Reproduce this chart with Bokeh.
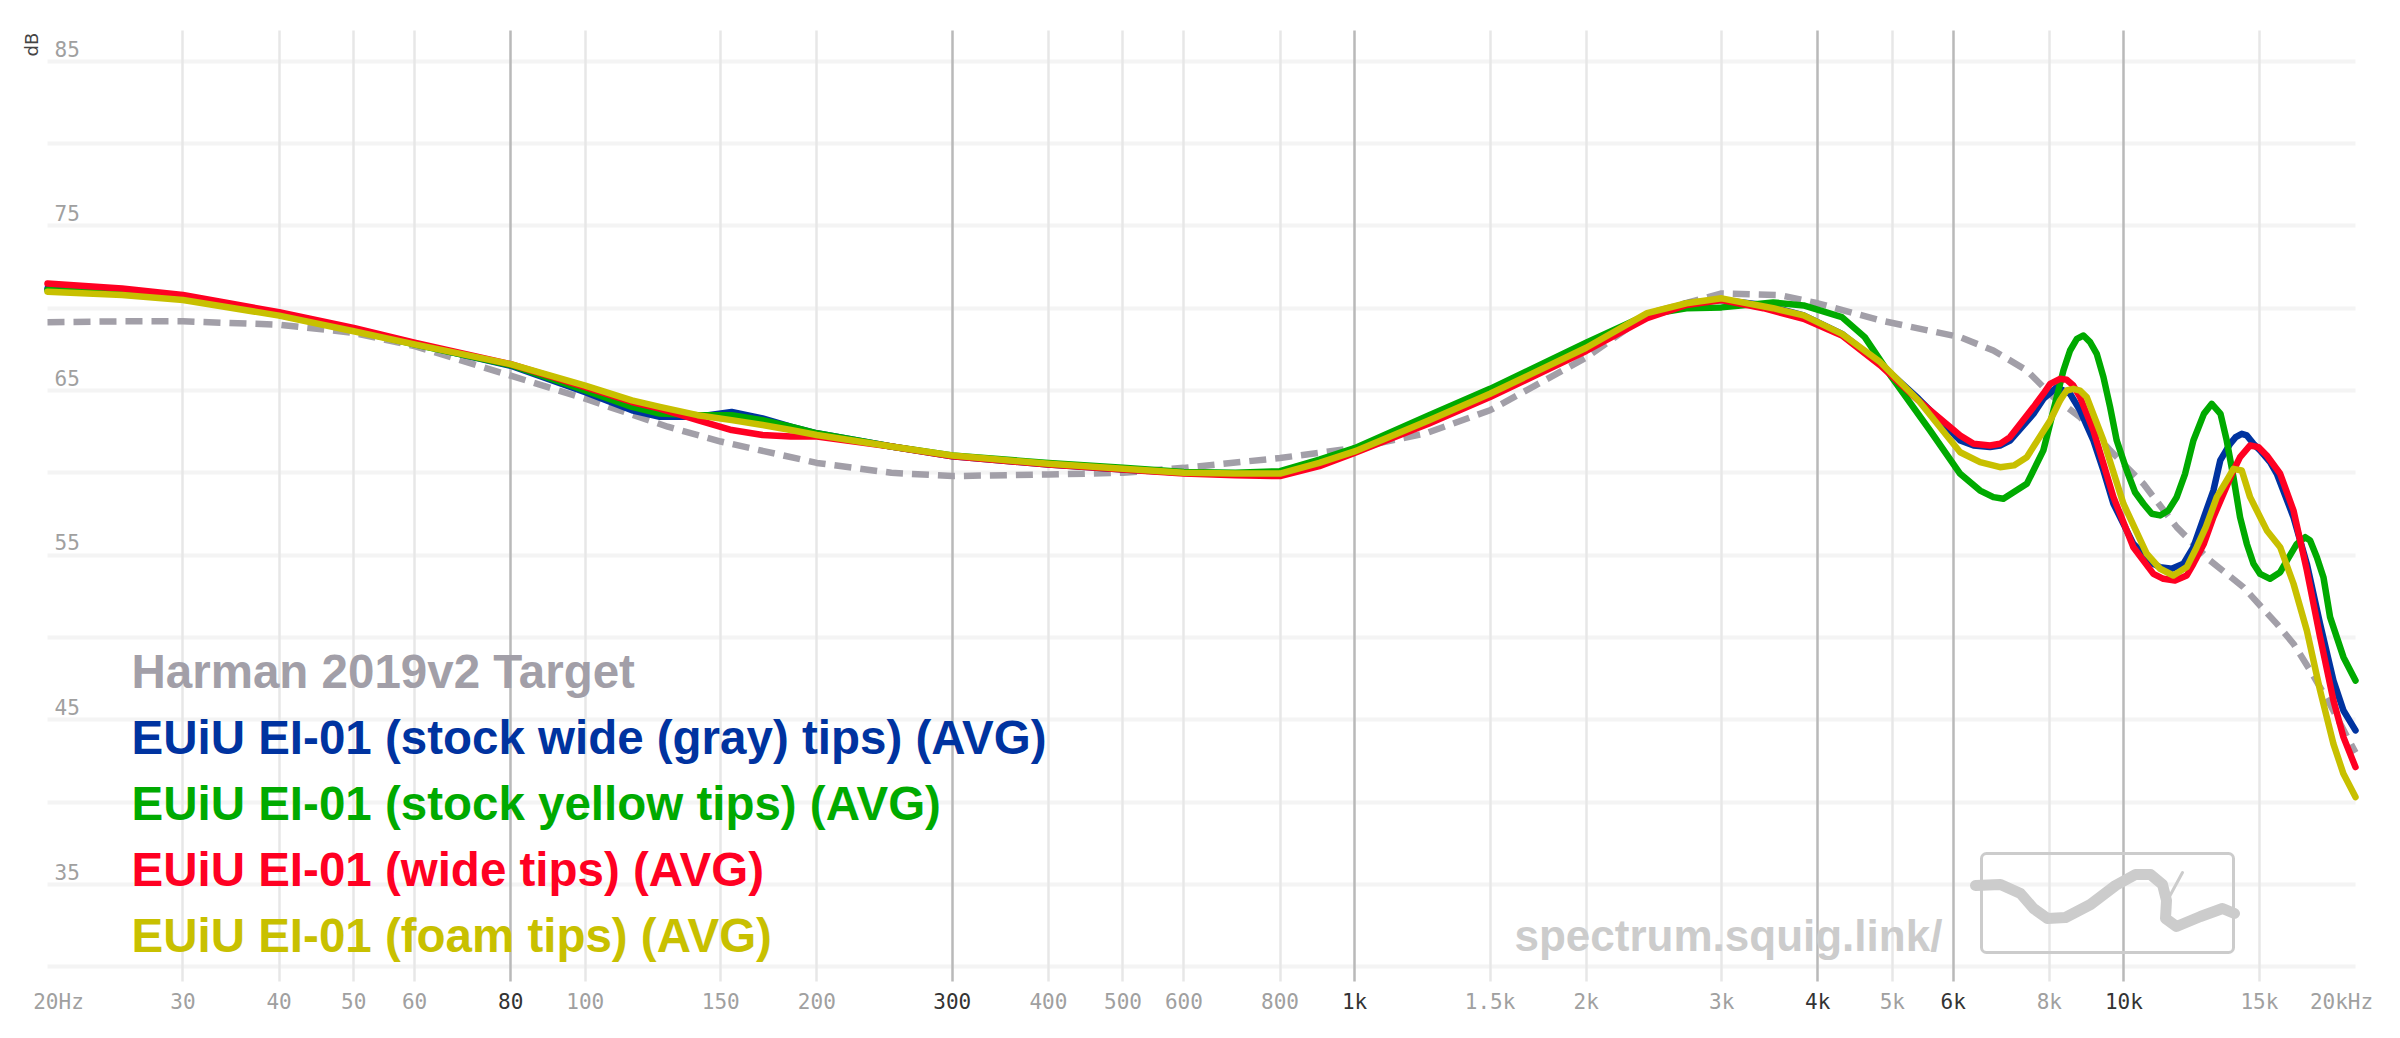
import math
from bokeh.plotting import figure
from bokeh.models import (Range1d, LogAxis, LinearAxis, FixedTicker, Grid,
                          CustomJSTickFormatter, ColumnDataSource)
from bokeh.core.properties import value
from bokeh.embed import file_html
from bokeh.resources import INLINE

# ---------------- data ----------------
harman_f = [20, 25, 30, 40, 50, 60, 80, 100, 128, 150, 200, 250, 300, 400, 500, 600, 800,
            1000, 1238, 1500, 2000, 2416, 3000, 3566, 4000, 4824, 6126, 6766, 7478, 8100,
            8770, 9596, 10602, 11712, 12942, 14302, 15806, 16614, 17460, 18500, 20000]
harman_db = [69.15, 69.2, 69.2, 69.0, 68.5, 67.7, 65.9, 64.5, 62.8, 61.9, 60.6, 60.0, 59.8,
             59.9, 60.0, 60.3, 60.9, 61.5, 62.4, 63.8, 67.0, 69.7, 70.9, 70.8, 70.3, 69.26,
             68.24, 67.43, 66.22, 64.6, 63.38, 61.36, 59.33, 56.7, 54.67, 53.05, 50.82,
             49.61, 48.0, 46.0, 43.0]

blue_f = [20, 25, 30, 40, 50, 60, 80, 100, 115, 125, 140, 155, 170, 185, 200, 250, 300, 400,
          500, 600, 700, 800, 900, 1000, 1250, 1500, 2000, 2400, 2700, 3000, 3400, 3834, 4300,
          4824, 5408, 6126, 6377, 6698, 6902, 7112, 7628, 7858, 8180, 8512, 8770, 9128, 9406,
          9692, 10288, 10924, 11144, 11538, 11948, 12312, 12705, 13072, 13342, 13742, 13974,
          14230, 14448, 14738, 15032, 15490, 15806, 16614, 17290, 17990, 18722, 19292, 20000]
blue_db = [71.2, 71.0, 70.65, 69.65, 68.7, 67.85, 66.5, 64.9, 63.8, 63.4, 63.4, 63.7, 63.3,
           62.8, 62.4, 61.6, 61.0, 60.5, 60.2, 60.0, 59.9, 59.9, 60.5, 61.3, 63.2, 64.8, 67.6,
           69.6, 70.3, 70.5, 70.2, 69.56, 68.44, 66.62, 64.5, 61.96, 61.66, 61.56, 61.66,
           61.96, 63.58, 64.49, 65.2, 64.8, 63.79, 61.96, 60.14, 58.12, 55.68, 54.47, 54.27,
           54.17, 54.47, 55.48, 57.3, 58.92, 60.75, 61.76, 62.17, 62.37, 62.27, 61.76, 61.36,
           60.65, 59.94, 57.3, 54.47, 50.82, 47.38, 45.56, 44.35]

green_f = [20, 25, 30, 40, 50, 60, 80, 100, 115, 125, 140, 155, 170, 185, 200, 250, 300, 400,
           500, 600, 700, 800, 900, 1000, 1250, 1500, 2000, 2400, 2700, 3000, 3500, 3834, 4300,
           4604, 4990, 5598, 6126, 6502, 6766, 6972, 7478, 7858, 8180, 8344, 8512, 8687, 8860,
           9038, 9220, 9406, 9596, 9788, 10086, 10340, 10602, 10870, 11144, 11424, 11712,
           12010, 12312, 12705, 13008, 13354, 13604, 13880, 14158, 14448, 14738, 15032, 15490,
           15964, 16286, 16778, 17204, 17460, 17816, 18170, 18536, 19292, 20000]
green_db = [71.1, 70.9, 70.6, 69.6, 68.65, 67.8, 66.55, 65.0, 64.0, 63.6, 63.5, 63.5, 63.2,
            62.8, 62.4, 61.6, 61.05, 60.6, 60.3, 60.05, 60.0, 60.1, 60.8, 61.5, 63.5, 65.1,
            67.9, 69.6, 70.0, 70.05, 70.35, 70.17, 69.46, 68.24, 65.81, 62.57, 59.94, 58.92,
            58.52, 58.42, 59.33, 61.36, 64.6, 66.22, 67.43, 68.14, 68.34, 67.94, 67.23, 65.81,
            63.99, 61.96, 60.14, 58.82, 58.12, 57.51, 57.41, 57.71, 58.52, 59.94, 61.96, 63.58,
            64.19, 63.58, 61.96, 59.74, 57.3, 55.68, 54.47, 53.86, 53.56, 53.96, 54.67, 55.68,
            56.09, 55.89, 54.87, 53.66, 51.23, 48.8, 47.38]

red_f = [20, 25, 30, 40, 50, 60, 80, 100, 115, 125, 140, 155, 170, 185, 200, 250, 300, 400,
         500, 600, 700, 800, 900, 1000, 1250, 1500, 2000, 2400, 2700, 3000, 3400, 3834, 4300,
         4824, 5408, 6126, 6377, 6698, 6902, 7112, 7628, 7858, 8020, 8260, 8426, 8596, 8770,
         9128, 9406, 9692, 10288, 10924, 11256, 11654, 12070, 12312, 12705, 13072, 13880,
         14158, 14590, 14958, 15338, 15964, 16614, 17290, 17990, 18722, 19292, 20000]
red_db = [71.5, 71.2, 70.8, 69.76, 68.8, 67.9, 66.6, 65.2, 64.3, 63.9, 63.2, 62.6, 62.3, 62.2,
          62.2, 61.6, 61.0, 60.5, 60.2, 59.95, 59.85, 59.8, 60.4, 61.2, 63.0, 64.6, 67.4, 69.4,
          70.2, 70.5, 70.0, 69.36, 68.34, 66.52, 64.39, 62.27, 61.76, 61.66, 61.76, 62.17,
          63.99, 64.8, 65.4, 65.71, 65.65, 65.3, 64.6, 62.57, 60.55, 58.52, 55.48, 53.86,
          53.56, 53.46, 53.76, 54.47, 55.69, 57.3, 60.14, 60.95, 61.66, 61.56, 61.05, 59.94,
          57.71, 54.07, 50.01, 46.17, 43.94, 42.12]

yellow_f = [20, 25, 30, 40, 50, 60, 80, 100, 115, 125, 140, 155, 170, 185, 200, 250, 300, 400,
            500, 600, 700, 800, 900, 1000, 1250, 1500, 2000, 2400, 2700, 3000, 3500, 3834, 4300,
            4824, 5408, 6126, 6502, 6902, 7196, 7478, 8020, 8260, 8426, 8596, 8770, 8948, 9406,
            9986, 10708, 11144, 11596, 12070, 12436, 12778, 13204, 13604, 13880, 14230, 14590,
            15338, 15964, 16614, 17290, 17990, 18722, 19292, 20000]
yellow_db = [71.0, 70.8, 70.5, 69.55, 68.6, 67.8, 66.6, 65.3, 64.4, 64.0, 63.5, 63.2, 62.9,
             62.6, 62.3, 61.6, 61.05, 60.55, 60.25, 60.0, 59.95, 59.95, 60.6, 61.3, 63.2, 64.8,
             67.6, 69.7, 70.3, 70.6, 70.0, 69.56, 68.44, 66.72, 64.39, 61.25, 60.65, 60.34,
             60.45, 60.95, 63.18, 64.39, 65.0, 65.1, 64.99, 64.6, 61.96, 58.12, 55.08, 54.17,
             53.76, 54.27, 55.48, 56.7, 58.52, 59.53, 60.24, 60.14, 58.52, 56.5, 55.48, 53.26,
             50.42, 46.77, 43.53, 41.71, 40.3]

series_names = ["Harman 2019v2 Target",
                "EUiU EI-01 (stock wide (gray) tips) (AVG)",
                "EUiU EI-01 (stock yellow tips) (AVG)",
                "EUiU EI-01 (wide tips) (AVG)",
                "EUiU EI-01 (foam tips) (AVG)"]
series_colors = ["#a29fa8", "#0033a0", "#00aa00", "#ff0022", "#c8c000"]

x_light_ticks = [30, 40, 50, 60, 100, 150, 200, 400, 500, 600, 800, 1500, 2000, 3000, 5000,
                 8000, 15000]
x_dark_ticks = [80, 300, 1000, 4000, 6000, 10000]
x_dark_labels = ["80", "300", "1k", "4k", "6k", "10k"]
x_gray_labels = ["20Hz", "30", "40", "50", "60", "100", "150", "200", "400", "500", "600",
                 "800", "1.5k", "2k", "3k", "5k", "8k", "15k", "20kHz"]
y_tick_values = [35, 45, 55, 65, 75, 85]
y_grid_values = [30, 35, 40, 45, 50, 55, 60, 65, 70, 75, 80, 85]

for _f, _d in ((harman_f, harman_db), (blue_f, blue_db), (green_f, green_db),
               (red_f, red_db), (yellow_f, yellow_db)):
    assert len(_f) == len(_d)

# ---------------- layout helpers (canvas pixel -> data) ----------------
def fx(px):
    return 20 * 10 ** ((px - 47) / 769.33)

def fy(py):
    return 65 - (py - 390) / 16.46

W, H = 2400, 1038
p = figure(width=W, height=H, output_backend="svg", toolbar_location=None,
           x_axis_type="log", x_axis_location=None, y_axis_location=None,
           x_range=Range1d(fx(0), fx(W)), y_range=Range1d(fy(H), fy(0)),
           min_border_left=0, min_border_right=0, min_border_top=0, min_border_bottom=0)
p.outline_line_color = None
p.background_fill_color = "white"
p.border_fill_color = "white"
p.grid.visible = False

y_bottom, y_top = fy(981), fy(30)

# grids
hgrid = Grid(dimension=1, ticker=FixedTicker(ticks=y_grid_values),
             grid_line_color="#f4f4f4", grid_line_width=4, cross_bounds=(20, 20000))
vgrid_light = Grid(dimension=0, ticker=FixedTicker(ticks=x_light_ticks),
                   grid_line_color="#e7e7e7", grid_line_width=2.5, cross_bounds=(y_bottom, y_top))
vgrid_dark = Grid(dimension=0, ticker=FixedTicker(ticks=x_dark_ticks),
                  grid_line_color="#b9b9b9", grid_line_width=2.5, cross_bounds=(y_bottom, y_top))
for g in (hgrid, vgrid_light, vgrid_dark):
    p.add_layout(g)

# axes, fixed at the bottom / left edge of the data area
gray_ticks = [fx(58)] + x_light_ticks + [fx(2341)]
ax_gray = LogAxis(fixed_location=y_bottom, ticker=FixedTicker(ticks=gray_ticks),
                  formatter=CustomJSTickFormatter(args=dict(labels=x_gray_labels),
                                                  code="return labels[index]"))
ax_dark = LogAxis(fixed_location=y_bottom, ticker=FixedTicker(ticks=x_dark_ticks),
                  formatter=CustomJSTickFormatter(args=dict(labels=x_dark_labels),
                                                  code="return labels[index]"))
for ax, col in ((ax_gray, "#a0a0a0"), (ax_dark, "#333333")):
    ax.axis_line_color = None
    ax.major_tick_line_color = None
    ax.minor_tick_line_color = None
    ax.major_tick_out = 0
    ax.major_tick_in = 0
    ax.major_label_standoff = 8
    ax.major_label_text_font = "DejaVu Sans Mono"
    ax.major_label_text_font_size = "21px"
    ax.major_label_text_color = col
    p.add_layout(ax, "below")

y_label_shift = 0.77
ay = LinearAxis(fixed_location=20,
                ticker=FixedTicker(ticks=[v + y_label_shift for v in y_tick_values]),
                formatter=CustomJSTickFormatter(args=dict(labels=[str(v) for v in y_tick_values]),
                                                code="return labels[index]"))
ay.axis_line_color = None
ay.major_tick_line_color = None
ay.minor_tick_line_color = None
ay.major_tick_out = 0
ay.major_tick_in = 0
ay.major_label_standoff = 7
ay.major_label_text_font = "DejaVu Sans Mono"
ay.major_label_text_font_size = "21px"
ay.major_label_text_color = "#a0a0a0"
p.add_layout(ay, "right")

# axis unit
p.text(x=[fx(31)], y=[fy(44)], text=["dB"], angle=math.pi / 2,
       text_font=value("DejaVu Sans"), text_font_size="18px", text_color="#444444",
       text_align="center", text_baseline="middle")

# watermark
p.text(x=[fx(1514)], y=[fy(935)], text=["spectrum.squig.link/"],
       text_font=value("Liberation Sans"), text_font_style="bold", text_font_size="44px",
       text_color="#cccccc", text_align="left", text_baseline="alphabetic")
p.quad(left=[fx(1981)], right=[fx(2233)], top=[fy(853)], bottom=[fy(952)],
       fill_color=None, line_color="#cccccc", line_width=3, border_radius=5)
logo_px = [(1975, 885), (2000, 884), (2020, 893), (2033, 908), (2047, 918), (2065, 917),
           (2090, 904), (2115, 885), (2135, 874), (2150, 874), (2162, 884), (2166, 900),
           (2165, 918), (2176, 926), (2200, 916), (2222, 908), (2234, 913)]
p.line([fx(a) for a, b in logo_px], [fy(b) for a, b in logo_px], line_color="#cccccc",
       line_width=11, line_cap="round", line_join="round")
p.line([fx(2182), fx(2169)], [fy(872), fy(896)], line_color="#cccccc", line_width=3,
       line_cap="round")

# curves
p.line(harman_f, harman_db, line_color=series_colors[0], line_width=6.5, line_dash="17 9")
for fs, dbs, col in ((blue_f, blue_db, series_colors[1]), (green_f, green_db, series_colors[2]),
                     (red_f, red_db, series_colors[3]), (yellow_f, yellow_db, series_colors[4])):
    p.line(fs, dbs, line_color=col, line_width=6.5, line_join="round", line_cap="round")

# legend as coloured text
leg = ColumnDataSource(dict(x=[fx(131)] * 5, y=[fy(671 + 66 * i) for i in range(5)],
                            text=series_names, color=series_colors))
p.text(x="x", y="y", text="text", text_color="color", source=leg,
       text_font=value("Liberation Sans"), text_font_style="bold", text_font_size="47.5px",
       text_align="left", text_baseline="alphabetic")

open("out.html", "w").write(file_html(p, INLINE))
